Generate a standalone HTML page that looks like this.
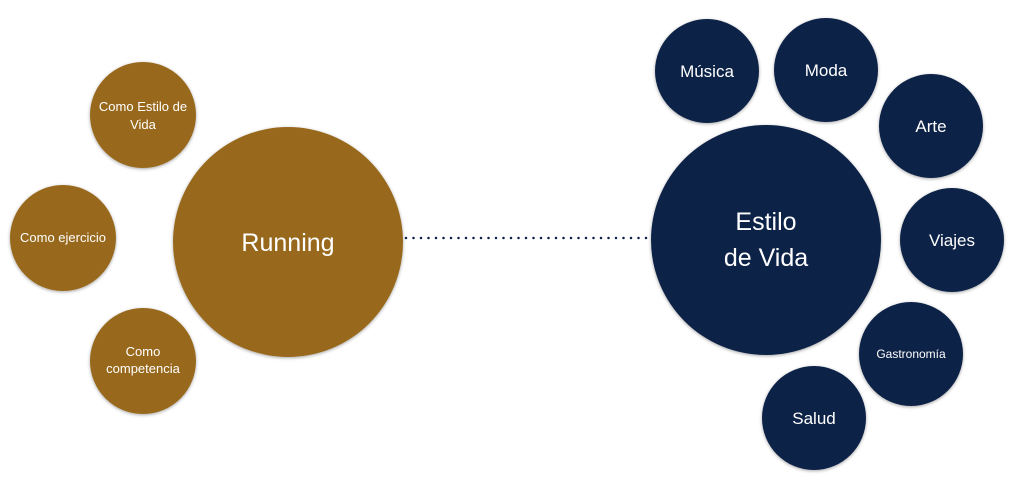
<!DOCTYPE html>
<html><head><meta charset="utf-8"><style>
html,body{margin:0;padding:0;background:#fff;}
svg{display:block}
text{font-family:"Liberation Sans",sans-serif;fill:#fff;text-anchor:middle;}
</style></head><body>
<svg width="1024" height="495" viewBox="0 0 1024 495">
<defs><filter id="s" x="-20%" y="-20%" width="140%" height="140%"><feDropShadow dx="0" dy="1" stdDeviation="1.5" flood-opacity="0.35"/></filter></defs>
<g filter="url(#s)" fill="#98691f">
<circle cx="288" cy="242" r="115"/>
<circle cx="143" cy="115" r="53"/>
<circle cx="63" cy="238" r="53"/>
<circle cx="143" cy="361" r="53"/>
</g>
<g filter="url(#s)" fill="#0b2146">
<circle cx="766" cy="240" r="115"/>
<circle cx="707" cy="71" r="52"/>
<circle cx="826" cy="70" r="52"/>
<circle cx="931" cy="126" r="52"/>
<circle cx="952" cy="240" r="52"/>
<circle cx="911" cy="354" r="52"/>
<circle cx="814" cy="418" r="52"/>
</g>
<line x1="406" y1="238" x2="648" y2="238" stroke="#0b2146" stroke-width="2.5" stroke-dasharray="0 7.5" stroke-linecap="round"/>
<text x="288" y="251" font-size="25">Running</text>
<text x="143" y="111" font-size="13">Como Estilo de</text>
<text x="143" y="129" font-size="13">Vida</text>
<text x="63" y="242" font-size="13">Como ejercicio</text>
<text x="143" y="356" font-size="13">Como</text>
<text x="143" y="373" font-size="13">competencia</text>
<text x="766" y="230" font-size="25">Estilo</text>
<text x="766" y="266" font-size="25">de Vida</text>
<text x="707" y="77" font-size="17">Música</text>
<text x="826" y="76" font-size="17">Moda</text>
<text x="931" y="132" font-size="17">Arte</text>
<text x="952" y="246" font-size="17">Viajes</text>
<text x="911" y="358" font-size="12">Gastronomía</text>
<text x="814" y="424" font-size="17">Salud</text>
</svg>
</body></html>
